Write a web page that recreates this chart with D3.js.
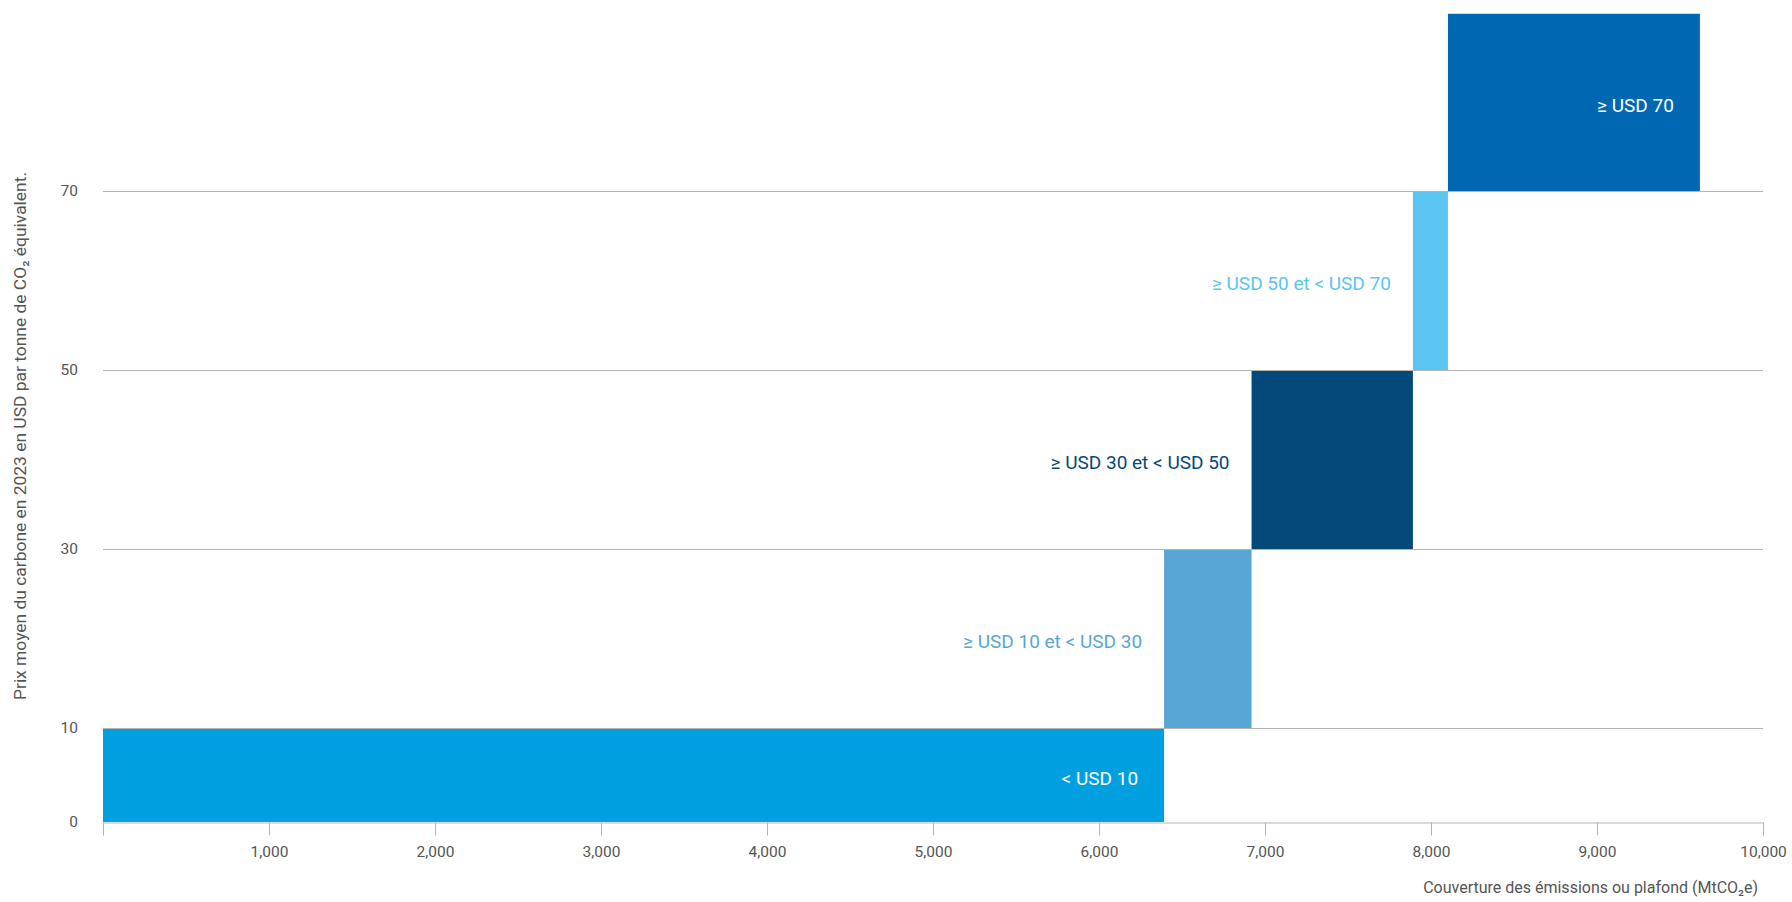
<!DOCTYPE html>
<html>
<head>
<meta charset="utf-8">
<script src="https://cdn.jsdelivr.net/npm/d3@7"></script>
<style>
  html, body { margin: 0; padding: 0; background: #fff; }
  svg { display: block; font-family: Roboto, "Noto Sans", sans-serif; }
</style>
</head>
<body>
<svg id="chart" width="1792" height="902"></svg>
<script>
// ---- data ----
const categories = ["< USD 10", "≥ USD 10 et < USD 30", "≥ USD 30 et < USD 50", "≥ USD 50 et < USD 70", "≥ USD 70"];
const coverageStart = [0, 6392, 6919, 7891, 8102];
const coverageEnd = [6392, 6919, 7891, 8102, 9620];
const priceLow = [0, 10, 30, 50, 70];
const priceHigh = [10, 30, 50, 70, 89.8];
const labelInside = [true, false, false, false, true];
const barColors = ["#009FE0", "#58A6D5", "#034A7B", "#5BC5F2", "#0068B3"];
const xTicks = [0, 1000, 2000, 3000, 4000, 5000, 6000, 7000, 8000, 9000, 10000];
const yTicks = [0, 10, 30, 50, 70];
const yTitle = "Prix moyen du carbone en 2023 en USD par tonne de CO₂ équivalent.";
const xTitle = "Couverture des émissions ou plafond  (MtCO₂e)";

// ---- layout ----
const svg = d3.select("#chart");
const x = d3.scaleLinear().domain([0, 10000]).range([103, 1763]);
const y = d3.scaleLinear().domain([-0.5, 90]).range([822, 12]);
const yBase = y.domain()[0];
const textGray = "#555555";
const gridGray = "#b4b4b4";

const rows = categories.map((c, i) => ({
  cat: c, x0: coverageStart[i], x1: coverageEnd[i],
  lo: priceLow[i], hi: priceHigh[i], inside: labelInside[i], color: barColors[i]
}));
const yPos = v => y(v === 0 ? yBase : v);

// bars
svg.append("g").selectAll("rect").data(rows).join("rect")
  .attr("x", d => x(d.x0))
  .attr("y", d => yPos(d.hi))
  .attr("width", d => x(d.x1) - x(d.x0))
  .attr("height", d => yPos(d.lo) - yPos(d.hi))
  .attr("fill", d => d.color);

// gridlines (over bars)
svg.append("g").selectAll("line").data(yTicks.filter(t => t > 0)).join("line")
  .attr("x1", x(0)).attr("x2", x(10000))
  .attr("y1", d => Math.round(y(d)) + 0.5).attr("y2", d => Math.round(y(d)) + 0.5)
  .attr("stroke", gridGray).attr("stroke-width", 1);

// x axis
const xAxis = d3.axisBottom(x).tickValues(xTicks).tickSize(13).tickPadding(10)
  .tickFormat(d => d === 0 ? "" : d3.format(",")(d));
const gx = svg.append("g").attr("transform", `translate(0,${Math.round(y(yBase)) + 0.5})`).call(xAxis);
gx.select(".domain").attr("stroke", gridGray);
gx.selectAll(".tick line").attr("stroke", gridGray);
gx.selectAll(".tick text").attr("fill", textGray).style("font-size", "15.5px")
  .style("font-family", "Roboto, sans-serif");

// y axis labels
const gy = svg.append("g");
gy.selectAll("text").data(yTicks).join("text")
  .attr("x", x(0) - 25)
  .attr("y", d => yPos(d))
  .attr("dy", "0.32em")
  .attr("text-anchor", "end")
  .attr("fill", textGray)
  .style("font-size", "15.5px")
  .text(d3.format("d"));

// bar labels
svg.append("g").selectAll("text").data(rows).join("text")
  .attr("x", d => (d.inside ? x(d.x1) : x(d.x0)) - (d.inside ? 26 : 22))
  .attr("y", d => (yPos(d.lo) + yPos(d.hi)) / 2)
  .attr("dy", "0.52em")
  .attr("text-anchor", "end")
  .attr("fill", d => d.inside ? "#ffffff" : d.color)
  .style("font-size", "19px")
  .text(d => d.cat);

// axis titles
svg.append("text")
  .attr("transform", `translate(26,${436}) rotate(-90)`)
  .attr("text-anchor", "middle")
  .attr("fill", textGray)
  .style("font-size", "16.5px")
  .attr("textLength", 528)
  .attr("lengthAdjust", "spacingAndGlyphs")
  .text(yTitle);

svg.append("text")
  .attr("x", 1758).attr("y", 893)
  .attr("text-anchor", "end")
  .attr("fill", textGray)
  .style("font-size", "16px")
  .text(xTitle);
</script>
</body>
</html>
